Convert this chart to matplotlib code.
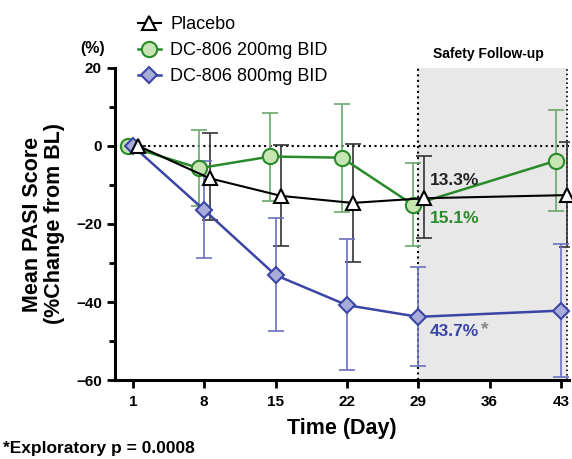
import numpy as np
import matplotlib
matplotlib.use("Agg")
import matplotlib.pyplot as plt
from matplotlib.ticker import MultipleLocator

plt.rcParams['font.family'] = ['Liberation Sans', 'DejaVu Sans']

days = [1, 8, 15, 22, 29, 43]

placebo = [0, -8.3, -12.8, -14.6, -13.4, -12.6]
placebo_lo = [0, -19.0, -25.6, -29.7, -23.7, -25.8]
placebo_hi = [0, 3.3, 0.3, 0.5, -2.7, 1.1]

low_dose = [0, -5.7, -2.7, -3.0, -15.1, -3.8]
low_lo = [0, -15.4, -14.1, -16.8, -25.6, -16.6]
low_hi = [0, 4.1, 8.5, 10.8, -4.4, 9.2]

high_dose = [0, -16.4, -33.1, -40.8, -43.8, -42.2]
high_lo = [0, -28.6, -47.4, -57.3, -56.4, -59.2]
high_hi = [0, -3.8, -18.5, -23.8, -31.1, -25.2]

xticks = [1, 8, 15, 22, 29, 36, 43]


def err(mean, lo, hi):
    mean = np.array(mean)
    return [mean - np.array(lo), np.array(hi) - mean]


fig = plt.figure(figsize=(5.72, 4.59), dpi=100)
ax = fig.add_axes([0.201, 0.172, 0.794, 0.680])

ax.axvspan(29, 43.6, ymin=0, ymax=1, color='#e8e8e8', zorder=0, lw=0)
ax.plot([29, 29], [-60, 20], ls=':', color='black', lw=1.5, zorder=1)
ax.plot([43.6, 43.6], [-60, 20], ls=':', color='black', lw=1.2, zorder=1)
ax.axhline(0, ls=':', color='black', lw=1.5, zorder=1)

d = np.array(days, dtype=float)
green = '#2a8a2a'
blue = '#3b45a6'

ax.errorbar(d - 0.5, low_dose, yerr=err(low_dose, low_lo, low_hi), fmt='none',
            ecolor='#6aa86a', elinewidth=1.2, capsize=6, capthick=1.2, zorder=2)
ax.errorbar(d + 0.55, placebo, yerr=err(placebo, placebo_lo, placebo_hi), fmt='none',
            ecolor='#333333', elinewidth=1.2, capsize=6, capthick=1.2, zorder=2)
ax.errorbar(d, high_dose, yerr=err(high_dose, high_lo, high_hi), fmt='none',
            ecolor='#6a70c0', elinewidth=1.2, capsize=6, capthick=1.2, zorder=2)

l1, = ax.plot(d + 0.55, placebo, color='black', lw=1.5, marker='^', ms=10,
              mfc='white', mec='black', mew=1.5, zorder=4, clip_on=False)
l2, = ax.plot(d - 0.5, low_dose, color=green, lw=1.8, marker='o', ms=11,
              mfc='#c6e5b3', mec=green, mew=1.5, zorder=3, clip_on=False)
l3, = ax.plot(d, high_dose, color=blue, lw=1.8, marker='D', ms=8,
              mfc='#a9acd9', mec=blue, mew=1.5, zorder=3, clip_on=False)

ax.text(30.1, -8.9, '13.3%', color='#222222', fontsize=12.5, fontweight='bold', va='center')
ax.text(30.1, -18.6, '15.1%', color=green, fontsize=12.5, fontweight='bold', va='center')
ax.text(30.1, -47.5, '43.7%', color=blue, fontsize=12.5, fontweight='bold', va='center')
ax.text(35.2, -47.0, '*', color='#888888', fontsize=14, fontweight='bold', va='center')
ax.text(35.9, 21.8, 'Safety Follow-up', ha='center', va='bottom', fontsize=10,
        fontweight='bold')

ax.set_xlim(-0.75, 43.8)
ax.set_ylim(-60, 20)
ax.set_xticks(xticks)
ax.set_yticks([20, 0, -20, -40, -60])
ax.yaxis.set_minor_locator(MultipleLocator(10))
for lab in ax.get_xticklabels() + ax.get_yticklabels():
    lab.set_fontweight('bold')
ax.tick_params(axis='both', which='major', labelsize=11, width=2, length=6, direction='out')
ax.tick_params(axis='x', which='major', pad=5)
ax.tick_params(axis='y', which='minor', width=2, length=4)
ax.spines['top'].set_visible(False)
ax.spines['right'].set_visible(False)
ax.spines['left'].set_linewidth(2.2)
ax.spines['bottom'].set_linewidth(2.2)

ax.set_xlabel('Time (Day)', fontsize=15.5, fontweight='bold', labelpad=6)
ax.set_ylabel('Mean PASI Score\n(%Change from BL)', fontsize=15.5, fontweight='bold',
              labelpad=8, linespacing=1.05)
fig.text(0.14, 0.885, '(%)', fontsize=11.5, fontweight='bold')
fig.text(0.005, 0.012, '*Exploratory p = 0.0008', fontsize=12.5, fontweight='bold')

fig.legend([l1, l2, l3], ['Placebo', 'DC-806 200mg BID', 'DC-806 800mg BID'],
           loc='upper left', bbox_to_anchor=(0.225, 0.985), frameon=False,
           fontsize=13, handlelength=1.3, handletextpad=0.5, labelspacing=0.5,
           borderaxespad=0.1)

fig.savefig('out.png', dpi=100)
